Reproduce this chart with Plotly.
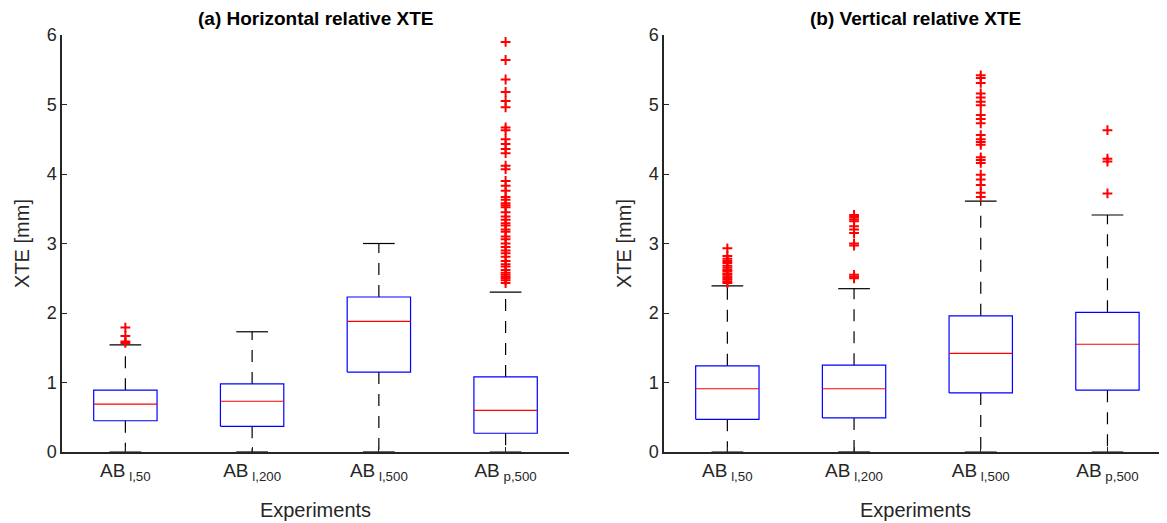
import plotly.graph_objects as go

categories = ["AB<sub> l,50</sub>", "AB<sub> l,200</sub>", "AB<sub> l,500</sub>", "AB<sub> p,500</sub>"]

# (a) Horizontal relative XTE
h_q1 = [0.45, 0.37, 1.15, 0.27]
h_median = [0.69, 0.73, 1.88, 0.60]
h_q3 = [0.89, 0.98, 2.23, 1.08]
h_low = [0.0, 0.0, 0.0, 0.0]
h_high = [1.54, 1.73, 3.00, 2.30]
h_outliers = [
    [1.57, 1.59, 1.67, 1.79],
    [],
    [],
    [5.90, 5.64, 5.36, 5.18, 5.05, 4.96, 4.67, 4.63, 4.50, 4.43, 4.36, 4.30,
     4.12, 4.07, 3.90, 3.83, 3.76, 3.67, 3.63, 3.58, 3.55, 3.52, 3.45, 3.39,
     3.34, 3.29, 3.26, 3.20, 3.17, 3.10, 3.06, 3.00, 2.95, 2.90, 2.86, 2.81,
     2.75, 2.70, 2.67, 2.62, 2.58, 2.55, 2.52, 2.50, 2.47, 2.43],
]

# (b) Vertical relative XTE
v_q1 = [0.47, 0.49, 0.85, 0.89]
v_median = [0.91, 0.91, 1.42, 1.55]
v_q3 = [1.24, 1.25, 1.96, 2.01]
v_low = [0.0, 0.0, 0.0, 0.0]
v_high = [2.39, 2.35, 3.61, 3.41]
v_outliers = [
    [2.93, 2.82, 2.78, 2.75, 2.72, 2.68, 2.65, 2.62, 2.60, 2.57, 2.55, 2.52,
     2.50, 2.48, 2.45, 2.43],
    [3.41, 3.38, 3.35, 3.32, 3.25, 3.20, 3.15, 3.00, 2.97, 2.55, 2.52, 2.50],
    [5.42, 5.38, 5.31, 5.16, 5.10, 5.04, 4.99, 4.85, 4.79, 4.73, 4.56, 4.50,
     4.46, 4.42, 4.24, 4.20, 4.16, 3.99, 3.92, 3.84, 3.73, 3.67],
    [4.63, 4.22, 4.18, 3.72],
]

titles = ["<b>(a) Horizontal relative XTE</b>", "<b>(b) Vertical relative XTE</b>"]

BOX_HALF = 0.25
CAP_HALF = 0.125
FONT = "Liberation Sans, Arial, Helvetica, sans-serif"
AXCOL = "#262626"

fig = go.Figure()


def add_panel(q1, med, q3, low, high, outs, xa, ya):
    bx, by, mx, my, wx, wy, cx, cy, ox, oy = [], [], [], [], [], [], [], [], [], []
    for i in range(len(q1)):
        p = i + 1
        bx += [p - BOX_HALF, p + BOX_HALF, p + BOX_HALF, p - BOX_HALF, p - BOX_HALF, None]
        by += [q1[i], q1[i], q3[i], q3[i], q1[i], None]
        mx += [p - BOX_HALF, p + BOX_HALF, None]
        my += [med[i], med[i], None]
        wx += [p, p, None, p, p, None]
        wy += [q3[i], high[i], None, q1[i], low[i], None]
        cx += [p - CAP_HALF, p + CAP_HALF, None, p - CAP_HALF, p + CAP_HALF, None]
        cy += [high[i], high[i], None, low[i], low[i], None]
        ox += [p] * len(outs[i])
        oy += outs[i]
    common = dict(xaxis=xa, yaxis=ya, showlegend=False, hoverinfo="skip")
    fig.add_trace(go.Scatter(x=wx, y=wy, mode="lines",
                             line=dict(color="black", width=1.2, dash="12px,10px"), **common))
    fig.add_trace(go.Scatter(x=cx, y=cy, mode="lines",
                             line=dict(color="black", width=1.2), **common))
    fig.add_trace(go.Scatter(x=bx, y=by, mode="lines",
                             line=dict(color="#0000FF", width=1.2), **common))
    fig.add_trace(go.Scatter(x=mx, y=my, mode="lines",
                             line=dict(color="#FF0000", width=1.2), **common))
    fig.add_trace(go.Scatter(x=ox, y=oy, mode="markers",
                             marker=dict(symbol="cross-thin", size=7,
                                         line=dict(color="#FF0000", width=2)),
                             **common))


add_panel(h_q1, h_median, h_q3, h_low, h_high, h_outliers, "x", "y")
add_panel(v_q1, v_median, v_q3, v_low, v_high, v_outliers, "x2", "y2")

xcommon = dict(tickvals=[1, 2, 3, 4], ticktext=categories, showline=True,
               linecolor=AXCOL, linewidth=1.5, ticks="inside", ticklen=5,
               tickcolor=AXCOL, tickwidth=1.2, showgrid=False, zeroline=False,
               tickfont=dict(size=19, color=AXCOL, family=FONT),
               title=dict(text="Experiments", font=dict(size=20, color=AXCOL, family=FONT),
                          standoff=20),
               mirror=False)
ycommon = dict(range=[0, 6], tickvals=[0, 1, 2, 3, 4, 5, 6], showline=True,
               linecolor=AXCOL, linewidth=1.5, ticks="inside", ticklen=5,
               tickcolor=AXCOL, tickwidth=1.2, showgrid=False, zeroline=False,
               tickfont=dict(size=18, color=AXCOL, family=FONT),
               title=dict(text="XTE [mm]", font=dict(size=20, color=AXCOL, family=FONT),
                          standoff=12),
               mirror=False)

fig.update_layout(
    width=1159, height=515,
    margin=dict(l=54, r=0, t=27, b=71, autoexpand=False),
    plot_bgcolor="white", paper_bgcolor="white",
    font=dict(family=FONT, color=AXCOL),
    xaxis=dict(domain=[0, 0.4588], range=[0.5, 4.5], anchor="y", **xcommon),
    yaxis=dict(domain=[0, 1], anchor="x", **ycommon),
    xaxis2=dict(domain=[0.5448, 1], range=[0.5, 4.47], anchor="y2", **xcommon),
    yaxis2=dict(domain=[0, 1], anchor="x2", **ycommon),
    annotations=[
        dict(text=titles[0], x=0.2294, y=1, xref="paper", yref="paper",
             xanchor="center", yanchor="bottom", yshift=4, showarrow=False,
             font=dict(size=19, color="black", family=FONT)),
        dict(text=titles[1], x=0.7724, y=1, xref="paper", yref="paper",
             xanchor="center", yanchor="bottom", yshift=4, showarrow=False,
             font=dict(size=19, color="black", family=FONT)),
    ],
)

fig.write_html("out.html")
